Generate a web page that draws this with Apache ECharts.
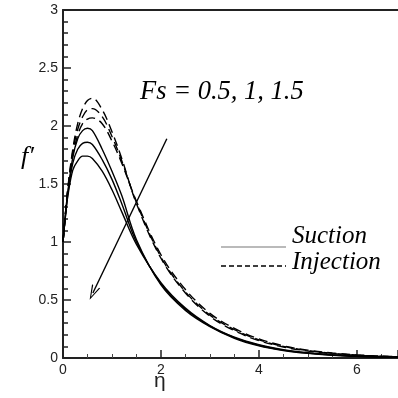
<!DOCTYPE html>
<html>
<head>
<meta charset="utf-8">
<script src="https://cdn.jsdelivr.net/npm/echarts@6/dist/echarts.min.js"></script>
<style>
  html, body { margin: 0; padding: 0; background: #fff; }
  #chart { width: 398px; height: 398px; }
</style>
</head>
<body>
<div id="chart"></div>
<script>
// Similarity variable eta
const eta = [0, 0.05, 0.1, 0.2, 0.3, 0.4, 0.5, 0.6, 0.8, 1.0, 1.2, 1.5, 2.0, 2.5, 3.0, 3.5, 4.0, 4.5, 5.0, 5.5, 6.0, 6.5, 7.0];

// Velocity profiles f'(eta), suction case, Fs = 0.5, 1, 1.5
const suctionFs05 = [1.00, 1.24, 1.44, 1.73, 1.89, 1.96, 1.98, 1.96, 1.80, 1.61, 1.40, 1.02, 0.63, 0.41, 0.27, 0.17, 0.105, 0.065, 0.040, 0.024, 0.014, 0.008, 0.004];
const suctionFs10 = [1.00, 1.23, 1.42, 1.68, 1.80, 1.85, 1.86, 1.84, 1.71, 1.54, 1.33, 1.00, 0.64, 0.42, 0.275, 0.175, 0.110, 0.068, 0.042, 0.025, 0.015, 0.008, 0.004];
const suctionFs15 = [1.00, 1.22, 1.40, 1.62, 1.70, 1.74, 1.74, 1.72, 1.61, 1.45, 1.26, 0.98, 0.65, 0.43, 0.28, 0.18, 0.115, 0.072, 0.045, 0.027, 0.016, 0.009, 0.005];

// Velocity profiles f'(eta), injection case, Fs = 0.5, 1, 1.5
const injectionFs05 = [1.00, 1.25, 1.47, 1.80, 2.02, 2.15, 2.22, 2.24, 2.14, 1.95, 1.72, 1.33, 0.86, 0.56, 0.36, 0.235, 0.150, 0.095, 0.060, 0.037, 0.023, 0.014, 0.008];
const injectionFs10 = [1.00, 1.25, 1.46, 1.78, 1.97, 2.08, 2.14, 2.15, 2.08, 1.91, 1.70, 1.34, 0.87, 0.57, 0.37, 0.245, 0.157, 0.100, 0.064, 0.040, 0.025, 0.015, 0.009];
const injectionFs15 = [1.00, 1.24, 1.45, 1.75, 1.92, 2.02, 2.06, 2.07, 2.02, 1.87, 1.68, 1.35, 0.89, 0.59, 0.385, 0.255, 0.165, 0.105, 0.068, 0.043, 0.027, 0.016, 0.010];

// Axis ranges (the eta axis runs on past the right edge of the figure)
const xRange = [0, 6.84];
const yRange = [0, 3];

// Arrow showing increasing Fs: [start, end] in data units
const arrowStart = [2.12, 1.89];
const arrowEnd = [0.61, 0.56];

const pairs = vals => eta.map((x, i) => [x, vals[i]]);

function profile(name, vals, dashed) {
  return {
    name: name,
    type: 'line',
    data: pairs(vals),
    smooth: 0.35,
    showSymbol: false,
    symbol: 'none',
    silent: true,
    lineStyle: { color: '#000', width: 1.4, type: dashed ? [9, 5] : 'solid' },
    z: 3
  };
}

const chart = echarts.init(document.getElementById('chart'), null, { renderer: 'canvas' });

const axisFont = { fontFamily: 'Liberation Sans, Arial, sans-serif', fontSize: 14, color: '#222' };
const serif = '"Liberation Serif", "Times New Roman", serif';

chart.setOption({
  animation: false,
  backgroundColor: '#fff',
  grid: { left: 63, top: 10, right: 0, bottom: 40 },
  xAxis: [
    {
      type: 'value',
      min: xRange[0], max: xRange[1], interval: 2,
      axisLine: { onZero: false, lineStyle: { color: '#222', width: 2 } },
      axisTick: { inside: true, length: 8, lineStyle: { color: '#222', width: 1.5 } },
      minorTick: { show: true, splitNumber: 4, length: 4, lineStyle: { color: '#444', width: 1 } },
      splitLine: { show: false },
      axisLabel: Object.assign({ margin: 5, showMaxLabel: false }, axisFont)
    },
    {
      // frame line along the top of the plot
      type: 'value', position: 'top',
      min: xRange[0], max: xRange[1],
      axisLine: { onZero: false, lineStyle: { color: '#222', width: 2 } },
      axisTick: { show: false },
      axisLabel: { show: false },
      splitLine: { show: false }
    }
  ],
  yAxis: {
    type: 'value',
    min: yRange[0], max: yRange[1], interval: 0.5,
    axisLine: { onZero: false, lineStyle: { color: '#222', width: 2 } },
    axisTick: { inside: true, length: 8, lineStyle: { color: '#222', width: 1.5 } },
    minorTick: { show: true, splitNumber: 5, length: 5, lineStyle: { color: '#222', width: 1.5 } },
    splitLine: { show: false },
    axisLabel: Object.assign({ margin: 5 }, axisFont)
  },
  series: [
    profile('Suction', suctionFs05, false),
    profile('Suction', suctionFs10, false),
    profile('Suction', suctionFs15, false),
    profile('Injection', injectionFs05, true),
    profile('Injection', injectionFs10, true),
    profile('Injection', injectionFs15, true),
    {
      type: 'line',
      data: [],
      silent: true,
      markLine: {
        silent: true,
        animation: false,
        symbol: ['none', 'path://M0,0 L-5,15 L-3.6,15 L0,3.5 L3.6,15 L5,15 Z'],
        symbolSize: [9, 15],
        label: { show: false },
        lineStyle: { color: '#000', width: 1.4, type: 'solid' },
        data: [[{ coord: arrowStart }, { coord: arrowEnd }]]
      }
    }
  ],
  graphic: [
    {
      type: 'text', left: 21, top: 144,
      style: { text: 'f\u2032', font: 'italic 26px ' + serif, fill: '#000' }
    },
    {
      type: 'text', left: 154, top: 371,
      style: { text: '\u03b7', font: '21px "Liberation Sans", Arial, sans-serif', fill: '#222' }
    },
    {
      type: 'text', left: 140, top: 79,
      style: { text: 'Fs = 0.5, 1, 1.5', font: 'italic 26.5px ' + serif, fill: '#000' }
    },
    {
      type: 'line', shape: { x1: 221, y1: 247, x2: 286, y2: 247 },
      style: { stroke: '#777', lineWidth: 1.2 }
    },
    {
      type: 'text', left: 292, top: 224,
      style: { text: 'Suction', font: 'italic 25px ' + serif, fill: '#000' }
    },
    {
      type: 'line', shape: { x1: 221, y1: 266, x2: 286, y2: 266 },
      style: { stroke: '#000', lineWidth: 1.3, lineDash: [5, 3] }
    },
    {
      type: 'text', left: 292, top: 250,
      style: { text: 'Injection', font: 'italic 25px ' + serif, fill: '#000' }
    }
  ]
});
</script>
</body>
</html>
